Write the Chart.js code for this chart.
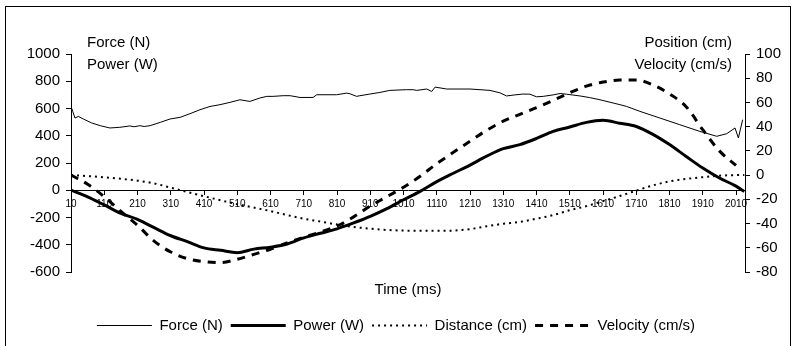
<!DOCTYPE html>
<html>
<head>
<meta charset="utf-8">
<script src="https://cdn.jsdelivr.net/npm/chart.js@4.4.0/dist/chart.umd.min.js"></script>
<style>
    html, body { margin: 0; padding: 0; background: #fff; }
</style>
</head>
<body>
<canvas id="myChart_force" width="792" height="346"></canvas>
<script>
// time base for the smooth traces (ms)
const timeMs = [10, 60, 110, 160, 210, 260, 310, 360, 410, 460, 510, 560, 610, 660, 710, 760, 810, 860, 910, 960,
    1010, 1060, 1110, 1160, 1210, 1260, 1310, 1360, 1410, 1460, 1510, 1560, 1610, 1660, 1710, 1760, 1810, 1860, 1910, 1960,
    2010, 2035];

const powerW = [0, -48, -108, -170, -214, -275, -334, -377, -423, -441, -458, -432, -418, -395, -350, -316, -283, -240, -192, -135,
    -70, -8, 63, 125, 185, 250, 305, 335, 380, 432, 464, 498, 513, 492, 468, 410, 335, 248, 163, 90,
    30, -10];

const distanceCm = [0, -0.8, -1.8, -3, -4.6, -6.8, -10.4, -13.9, -17.4, -20.8, -24, -26.8, -29.7, -33, -36, -38.3, -40.8, -42.8, -44.2, -45.3,
    -45.8, -46, -46, -45.8, -44.6, -42.2, -40.2, -38.6, -36, -33, -29, -25.6, -21.5, -17.3, -12.8, -8.5, -5.2, -3.2, -1.7, -0.5,
    0, 0];

const velocityCms = [0, -7.5, -17.8, -30, -41.5, -54.5, -63.5, -69, -71.4, -72.2, -69.5, -65.4, -61.2, -56, -51.3, -47, -42, -34.5, -25.5, -17.8,
    -10, -1, 9.5, 18.8, 28, 37, 44.5, 50.2, 55.7, 61.7, 68, 73.5, 76.8, 78.5, 78.5, 74.5, 67, 56.5, 37.5, 20,
    8, null];

// force is noisier, so it has its own finer time base
const forceTimeMs = [10, 15, 22, 32, 47, 72, 98, 127, 157, 187, 200, 217, 230, 248, 278, 308, 338, 368, 398, 428,
    458, 488, 518, 548, 578, 599, 618, 648, 669, 699, 738, 749, 809, 839, 849, 869, 879, 909, 939, 969,
    1019, 1039, 1050, 1080, 1095, 1105, 1140, 1210, 1240, 1270, 1300, 1320, 1345, 1369, 1390, 1410, 1430, 1460, 1481, 1500,
    1541, 1570, 1601, 1661, 1681, 1721, 1781, 1841, 1901, 1952, 1982, 2007, 2017, 2030];

const forceN = [615, 580, 530, 542, 523, 494, 474, 457, 462, 472, 466, 474, 468, 474, 498, 523, 535, 562, 591, 615,
    628, 645, 664, 652, 677, 689, 689, 694, 694, 681, 681, 701, 701, 713, 708, 689, 694, 706, 718, 733,
    738, 738, 733, 743, 725, 757, 743, 743, 738, 733, 715, 692, 700, 706, 705, 686, 689, 700, 710, 705,
    692, 680, 664, 628, 615, 579, 530, 481, 432, 396, 415, 457, 384, 518];

const timeTicks = [10, 110, 210, 310, 410, 510, 610, 710, 810, 910, 1010, 1110, 1210, 1310, 1410, 1510, 1610, 1710, 1810, 1910, 2010];

function pts(xs, ys) {
    return xs.map(function(x, i) { return { x: x, y: ys[i] }; });
}

const fontFam = '"Liberation Sans", Arial, sans-serif';

// frame + axis captions at the top corners
const decor = {
    id: 'decor',
    afterDraw: function(chart) {
        const ctx = chart.ctx;
        const a = chart.chartArea;
        ctx.save();
        ctx.strokeStyle = '#000';
        ctx.lineWidth = 1;
        ctx.strokeRect(5.5, 6.5, 785, 345);
        ctx.fillStyle = '#000';
        ctx.font = '15px ' + fontFam;
        ctx.textBaseline = 'middle';
        ctx.textAlign = 'left';
        ctx.fillText('Force (N)', a.left + 16, 43);
        ctx.fillText('Power (W)', a.left + 16, 65);
        ctx.textAlign = 'right';
        ctx.fillText('Position (cm)', a.right - 13, 43);
        ctx.fillText('Velocity (cm/s)', a.right - 13, 65);
        ctx.restore();
    }
};

const data = {
    datasets: [{
        label: 'Force (N)',
        data: pts(forceTimeMs, forceN),
        yAxisID: 'yL',
        borderColor: '#000',
        borderWidth: 1,
        tension: 0,
    }, {
        label: 'Power (W)',
        data: pts(timeMs, powerW),
        yAxisID: 'yL',
        borderColor: '#000',
        borderWidth: 3,
        cubicInterpolationMode: 'monotone',
    }, {
        label: 'Distance (cm)',
        data: pts(timeMs, distanceCm),
        yAxisID: 'yR',
        borderColor: '#000',
        borderWidth: 2,
        borderDash: [2, 4],
        cubicInterpolationMode: 'monotone',
    }, {
        label: 'Velocity (cm/s)',
        data: pts(timeMs, velocityCms),
        yAxisID: 'yR',
        borderColor: '#000',
        borderWidth: 3,
        borderDash: [8, 7],
        cubicInterpolationMode: 'monotone',
    }]
};

const config = {
    type: 'line',
    data: data,
    options: {
        responsive: false,
        animation: false,
        elements: { point: { radius: 0 } },
        layout: { padding: { left: 0, right: 0, top: 54, bottom: 3 } },
        scales: {
            x: {
                type: 'linear',
                position: { yL: 0 },
                min: 10,
                max: 2037,
                afterBuildTicks: function(scale) {
                    scale.ticks = timeTicks.map(function(v) { return { value: v }; });
                },
                grid: { drawOnChartArea: false, tickLength: 4, color: '#000' },
                border: { color: '#000', width: 1 },
                ticks: {
                    color: '#000',
                    font: { size: 10, family: fontFam },
                    padding: 4,
                    maxRotation: 0,
                    autoSkip: false,
                    callback: function(v) { return String(v); }
                }
            },
            yL: {
                position: 'left',
                min: -600,
                max: 1000,
                afterFit: function(scale) { scale.width = 71; },
                grid: { drawOnChartArea: false, tickLength: 5, color: '#000' },
                border: { color: '#000', width: 1 },
                ticks: {
                    stepSize: 200, color: '#000', padding: 6, font: { size: 15, family: fontFam },
                    callback: function(v) { return String(v); }
                }
            },
            yR: {
                position: 'right',
                min: -80,
                max: 100,
                afterFit: function(scale) { scale.width = 47; },
                grid: { drawOnChartArea: false, tickLength: 5, color: '#000' },
                border: { color: '#000', width: 1 },
                ticks: {
                    stepSize: 20, color: '#000', padding: 6, font: { size: 15, family: fontFam },
                    callback: function(v) { return String(v); }
                }
            }
        },
        plugins: {
            title: {
                display: true,
                text: 'Time (ms)',
                position: 'bottom',
                fullSize: false,
                weight: 500,
                color: '#000',
                font: { size: 15, weight: 'normal', family: fontFam },
                padding: { top: 9, bottom: 11 }
            },
            legend: {
                position: 'bottom',
                labels: {
                    usePointStyle: true,
                    pointStyle: 'line',
                    pointStyleWidth: 55,
                    color: '#000',
                    padding: 8,
                    font: { size: 15, family: fontFam },
                    generateLabels: function(chart) {
                        return chart.data.datasets.map(function(ds, i) {
                            return {
                                text: ds.label,
                                datasetIndex: i,
                                fillStyle: '#000',
                                strokeStyle: '#000',
                                fontColor: '#000',
                                lineWidth: ds.borderWidth,
                                lineDash: ds.borderDash || [],
                                pointStyle: 'line',
                                hidden: false
                            };
                        });
                    }
                }
            },
            tooltip: { enabled: false }
        }
    },
    plugins: [decor]
};

const myChart = new Chart(document.getElementById('myChart_force'), config);
</script>
</body>
</html>
